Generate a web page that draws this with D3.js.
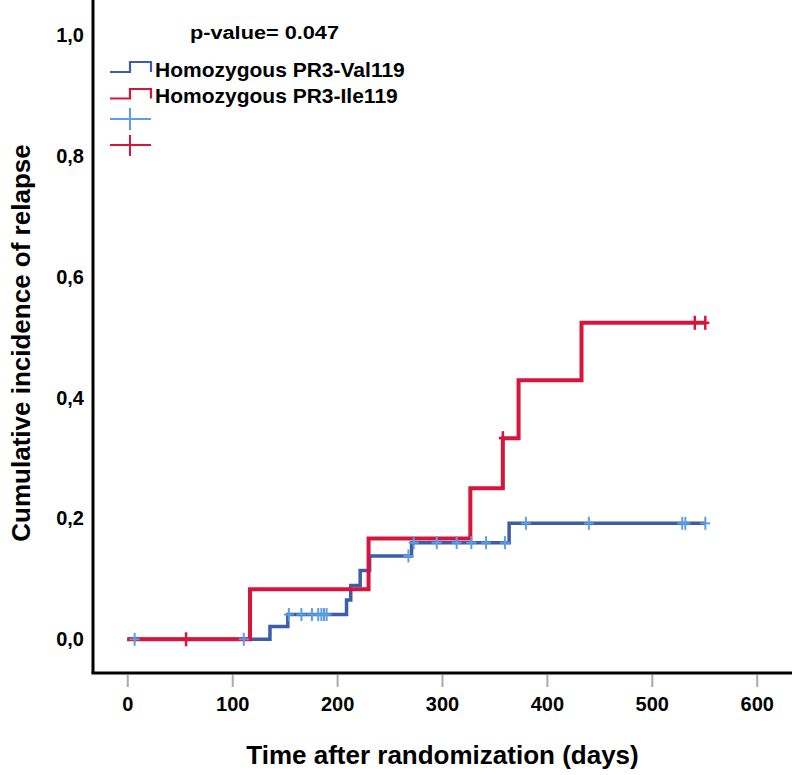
<!DOCTYPE html>
<html>
<head>
<meta charset="utf-8">
<script src="https://cdn.jsdelivr.net/npm/d3@7"></script>
<style>
  html, body { margin: 0; padding: 0; background: #fff; }
  svg { display: block; }
  text { font-family: "Liberation Sans", Arial, Helvetica, sans-serif; font-weight: bold; fill: #000; }
</style>
</head>
<body>
<svg id="chart" width="796" height="775"></svg>
<script>
// ---- data ----
const groupNames = ["Homozygous PR3-Val119", "Homozygous PR3-Ile119"];
const pValueLabel = "p-value= 0.047";

// Homozygous PR3-Val119 (blue)
const valEventDays = [136, 153, 209, 213, 222, 231, 271, 364];
const valEventCI   = [0.021, 0.041, 0.065, 0.089, 0.114, 0.138, 0.160, 0.192];
const valCensorDays = [7, 111, 154, 166, 176, 182, 185, 187.5, 190, 268, 273, 295, 314, 328, 342, 360, 380, 440, 529, 532, 551];

// Homozygous PR3-Ile119 (red)
const ileEventDays = [117, 230, 327, 358, 373, 433];
const ileEventCI   = [0.083, 0.167, 0.25, 0.333, 0.429, 0.524];
const ileCensorDays = [56, 358, 541, 551];

const xTicks = [0, 100, 200, 300, 400, 500, 600];
const yTicks = [0, 0.2, 0.4, 0.6, 0.8, 1.0];
const xTitle = "Time after randomization (days)";
const yTitle = "Cumulative incidence of relapse";

// ---- styles ----
const colBlue = "#3d5caa";
const colLightBlue = "#5b9ee6";
const colRed = "#d7143c";

const svg = d3.select("#chart");

const x = d3.scaleLinear().domain([0, 600]).range([127.3, 756.7]);
const y = d3.scaleLinear().domain([0, 1]).range([639.3, 35.3]);

function stepValue(days, ci, t) {
  const i = d3.bisectRight(days, t);
  return i === 0 ? 0 : ci[i - 1];
}
function buildPath(days, ci, endDay) {
  const pts = [[0, 0]];
  days.forEach((d, i) => pts.push([d, ci[i]]));
  pts.push([endDay, ci[ci.length - 1]]);
  return pts;
}

const line = d3.line().x(d => x(d[0])).y(d => y(d[1])).curve(d3.curveStepAfter);

// axes frame
const axisBottomY = 673;
const axisLeftX = 93;
svg.append("line").attr("x1", axisLeftX).attr("x2", axisLeftX).attr("y1", 0).attr("y2", axisBottomY)
  .attr("stroke", "#000").attr("stroke-width", 3);
svg.append("line").attr("x1", axisLeftX - 1.5).attr("x2", 792).attr("y1", axisBottomY).attr("y2", axisBottomY)
  .attr("stroke", "#000").attr("stroke-width", 3);

// x axis (ticks detached below frame)
const xAxis = d3.axisBottom(x).tickValues(xTicks).tickSize(12).tickPadding(10).tickFormat(d3.format("d"));
const gx = svg.append("g").attr("transform", `translate(0,${axisBottomY + 2})`).call(xAxis);
gx.select(".domain").remove();
gx.selectAll(".tick line").attr("stroke", "#aaa").attr("stroke-width", 2);
gx.selectAll(".tick text").attr("font-size", 20).attr("font-family", "Liberation Sans, Arial, sans-serif")
  .attr("font-weight", "bold").attr("fill", "#000");

// y axis labels (no tick marks)
const yAxis = d3.axisLeft(y).tickValues(yTicks).tickSize(0).tickPadding(0)
  .tickFormat(d => d3.format(".1f")(d).replace(".", ","));
const gy = svg.append("g").attr("transform", "translate(84,0)").call(yAxis);
gy.select(".domain").remove();
gy.selectAll(".tick text").attr("font-size", 20).attr("font-family", "Liberation Sans, Arial, sans-serif")
  .attr("font-weight", "bold").attr("fill", "#000");

// titles
svg.append("text").attr("x", 442.5).attr("y", 764).attr("text-anchor", "middle")
  .attr("font-size", 26).text(xTitle);
svg.append("text").attr("transform", "translate(30,343) rotate(-90)").attr("text-anchor", "middle")
  .attr("font-size", 26).text(yTitle);

// curves
const valPts = buildPath(valEventDays, valEventCI, 551);
const ilePts = buildPath(ileEventDays, ileEventCI, 551);

svg.append("path").attr("d", line(valPts)).attr("fill", "none").attr("stroke", colBlue).attr("stroke-width", 3.5);
svg.append("path").attr("d", line(ilePts)).attr("fill", "none").attr("stroke", colRed).attr("stroke-width", 4);

// censor marks
function drawCensors(days, evDays, evCI, color, hLen, vLen, sw) {
  const g = svg.append("g");
  days.forEach(d => {
    const cx = x(d), cy = y(stepValue(evDays, evCI, d));
    g.append("line").attr("x1", cx - hLen / 2).attr("x2", cx + hLen / 2).attr("y1", cy).attr("y2", cy)
      .attr("stroke", color).attr("stroke-width", sw);
    g.append("line").attr("x1", cx).attr("x2", cx).attr("y1", cy - vLen / 2).attr("y2", cy + vLen / 2)
      .attr("stroke", color).attr("stroke-width", sw);
  });
}
drawCensors(valCensorDays, valEventDays, valEventCI, colLightBlue, 10, 13, 2);
drawCensors(ileCensorDays, ileEventDays, ileEventCI, colRed, 8, 14, 2.5);

// legend
svg.append("text").attr("x", 190).attr("y", 39).attr("font-size", 18)
  .attr("textLength", 149).attr("lengthAdjust", "spacingAndGlyphs").text(pValueLabel);

const legRows = [
  { name: groupNames[0], color: colBlue, yLow: 72, yHigh: 62, textY: 77 },
  { name: groupNames[1], color: colRed, yLow: 98.5, yHigh: 89, textY: 103 }
];
legRows.forEach(r => {
  svg.append("path")
    .attr("d", `M110,${r.yLow} H130 V${r.yHigh} H151 V${r.yLow}`)
    .attr("fill", "none").attr("stroke", r.color).attr("stroke-width", 2.2);
  svg.append("text").attr("x", 155).attr("y", r.textY).attr("font-size", 21).text(r.name);
});
const legCens = [
  { color: colLightBlue, cy: 119, v1: 108, v2: 130 },
  { color: colRed, cy: 145, v1: 135, v2: 156 }
];
legCens.forEach(c => {
  svg.append("line").attr("x1", 110).attr("x2", 151).attr("y1", c.cy).attr("y2", c.cy)
    .attr("stroke", c.color).attr("stroke-width", 2);
  svg.append("line").attr("x1", 130).attr("x2", 130).attr("y1", c.v1).attr("y2", c.v2)
    .attr("stroke", c.color).attr("stroke-width", 2);
});
</script>
</body>
</html>
